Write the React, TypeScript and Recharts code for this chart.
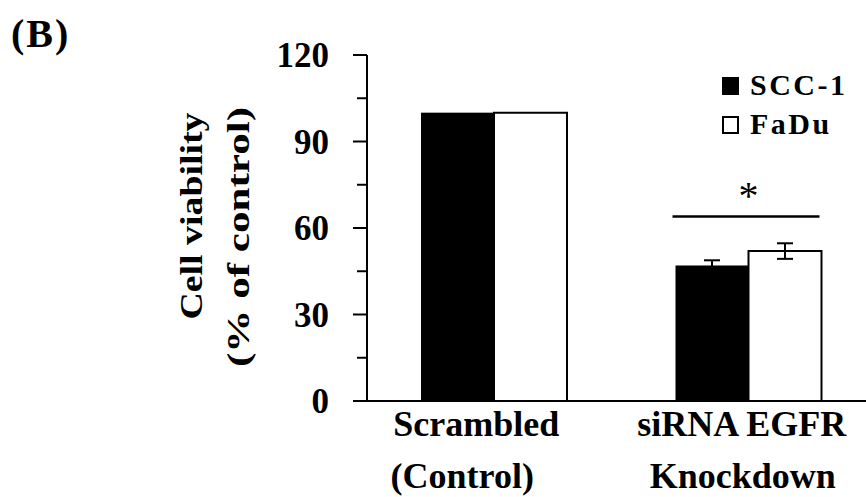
import { BarChart, Bar, XAxis, YAxis, ErrorBar } from 'recharts';

const categoryLines = [
  ['Scrambled', '(Control)'],
  ['siRNA EGFR', 'Knockdown'],
];
const seriesNames = ['SCC-1', 'FaDu'];
const scc1 = [100, 47];
const fadu = [100, 52];
const scc1Err = [0, 1.8];
const faduErr = [0, 2.7];
const sigLevel = [null, 64];
const yTicks = [0, 15, 30, 45, 60, 75, 90, 105, 120];

const data = categoryLines.map((lines, i) => ({
  name: lines.join(' '),
  scc1: scc1[i],
  fadu: fadu[i],
  scc1Err: scc1Err[i],
  faduErr: faduErr[i],
  sig: sigLevel[i],
}));

const FONT = '"Liberation Serif", "Times New Roman", serif';

const YTick = (props: any) => {
  const { x, y, payload } = props;
  const major = payload.value % 30 === 0;
  return (
    <g>
      <line x1={x - (major ? 14 : 10)} x2={x} y1={y} y2={y} stroke="#000" strokeWidth={2} />
      {major && (
        <text x={x - 38} y={y + 12} textAnchor="end" fontFamily={FONT} fontWeight="bold" fontSize={35} fill="#000">
          {payload.value}
        </text>
      )}
    </g>
  );
};

const XTick = (props: any) => {
  const { x, y, index } = props;
  const lines = categoryLines[index] || [];
  // the original labels sit a bit left of the band centre
  const dx = index === 0 ? [-18, -32] : [-7, -6];
  return (
    <g>
      {lines.map((t, k) => (
        <text key={k} x={x + dx[k]} y={y + 35 + k * 52} textAnchor="middle" fontFamily={FONT} fontWeight="bold" fontSize={36} fill="#000">
          {t}
        </text>
      ))}
    </g>
  );
};

const YLabel = (props: any) => {
  const { viewBox } = props;
  const cy = viewBox.y + viewBox.height / 2;
  const x1 = viewBox.x - 85;
  const x2 = viewBox.x - 38;
  return (
    <g fontFamily={FONT} fontWeight="bold" fontSize={31} fill="#000">
      <text x={x1} y={cy - 12} textAnchor="middle" transform={`rotate(-90, ${x1}, ${cy - 12})`} textLength={207} lengthAdjust="spacingAndGlyphs">
        Cell viability
      </text>
      <text x={x2} y={cy + 9} textAnchor="middle" transform={`rotate(-90, ${x2}, ${cy + 9})`} textLength={260} lengthAdjust="spacingAndGlyphs">
        (% of control)
      </text>
    </g>
  );
};

// black bar; also draws the significance bar + asterisk over its group
const SccShape = (props: any) => {
  const { x, y, width, height, payload, value } = props;
  const v = Array.isArray(value) ? value[1] - value[0] : value;
  let sig = null;
  if (payload && payload.sig != null && v) {
    const sy = y + height - payload.sig * (height / v);
    sig = (
      <g>
        <line x1={x - 3} x2={x + 2 * width - 2} y1={sy} y2={sy} stroke="#000" strokeWidth={2.5} />
        <text x={x + width} y={sy - 7} textAnchor="middle" fontFamily={FONT} fontSize={40} fill="#000">
          *
        </text>
      </g>
    );
  }
  return (
    <g>
      <rect x={x} y={y} width={width} height={height} fill="#000" />
      {sig}
    </g>
  );
};

export default function App() {
  return (
    <div style={{ position: 'absolute', left: 0, top: 0, width: 866, height: 497, overflow: 'hidden', background: '#fff' }}>
      <div style={{ position: 'absolute', left: 11, top: 12, fontFamily: FONT, fontWeight: 'bold', fontSize: 40, lineHeight: '44px', letterSpacing: 2 }}>(B)</div>
      <BarChart width={900} height={497} data={data} margin={{ top: 55, right: 24, bottom: 0, left: 287 }} barGap={0} barSize={73}>
        <XAxis dataKey="name" xAxisId="top" orientation="top" height={0} tick={false} tickLine={false} axisLine={{ stroke: '#000', strokeWidth: 2 }} />
        <XAxis dataKey="name" height={96} tickLine={false} tickSize={0} tickMargin={0} tick={<XTick />} axisLine={{ stroke: '#000', strokeWidth: 2 }} interval={0} />
        <YAxis
          width={80}
          domain={[0, 120]}
          ticks={yTicks}
          interval={0}
          tickLine={false}
          tickSize={0}
          tickMargin={0}
          tick={<YTick />}
          axisLine={{ stroke: '#000', strokeWidth: 2 }}
          label={<YLabel />}
        />
        <Bar dataKey="scc1" name={seriesNames[0]} fill="#000" shape={<SccShape />} isAnimationActive={false}>
          <ErrorBar dataKey="scc1Err" width={8} strokeWidth={2} stroke="#000" />
        </Bar>
        <Bar dataKey="fadu" name={seriesNames[1]} fill="#fff" stroke="#000" strokeWidth={2} isAnimationActive={false}>
          <ErrorBar dataKey="faduErr" width={8} strokeWidth={2} stroke="#000" />
        </Bar>
      </BarChart>
      <div style={{ position: 'absolute', left: 722, top: 65, fontFamily: FONT, fontWeight: 'bold', fontSize: 30, lineHeight: '39px' }}>
        {seriesNames.map((n, i) => (
          <div key={n} style={{ display: 'flex', alignItems: 'center', height: 39 }}>
            <span style={{ display: 'inline-block', width: i === 0 ? 17 : 13, height: i === 0 ? 18 : 14, background: i === 0 ? '#000' : '#fff', border: i === 0 ? 'none' : '2px solid #000', marginRight: 11, marginTop: 2 }} />
            <span style={{ letterSpacing: 2.5 }}>{n}</span>
          </div>
        ))}
      </div>
    </div>
  );
}
